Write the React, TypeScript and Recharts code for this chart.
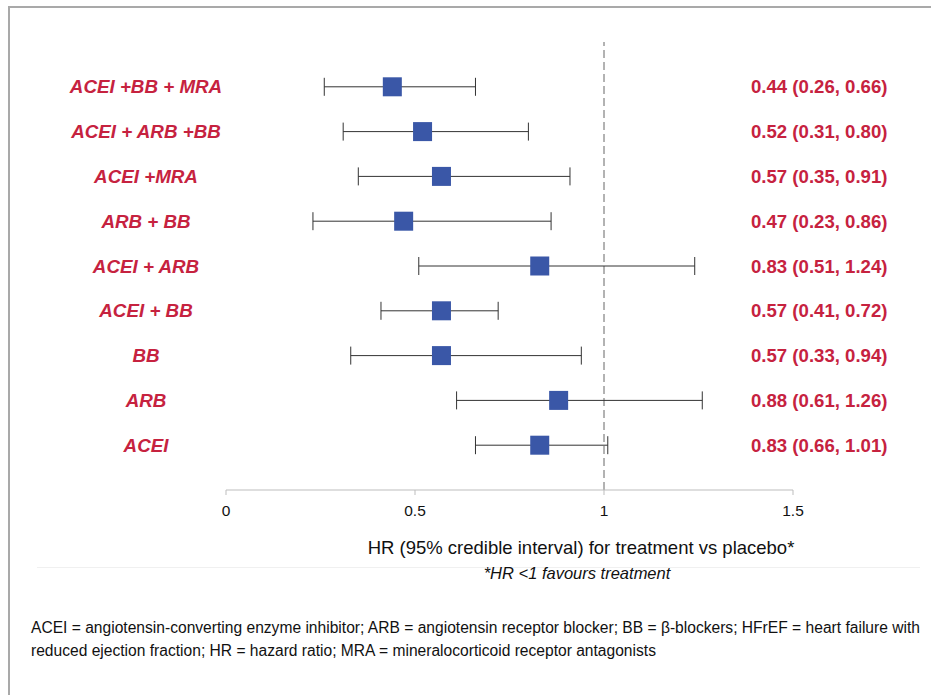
import React from 'react';
import {
  ScatterChart,
  Scatter,
  XAxis,
  YAxis,
  ErrorBar,
  ReferenceLine,
} from 'recharts';

const treatments = [
  'ACEI +BB + MRA',
  'ACEI + ARB +BB',
  'ACEI +MRA',
  'ARB + BB',
  'ACEI + ARB',
  'ACEI + BB',
  'BB',
  'ARB',
  'ACEI',
];
const hrValues = [0.44, 0.52, 0.57, 0.47, 0.83, 0.57, 0.57, 0.88, 0.83];
const lowerCI = [0.26, 0.31, 0.35, 0.23, 0.51, 0.41, 0.33, 0.61, 0.66];
const upperCI = [0.66, 0.8, 0.91, 0.86, 1.24, 0.72, 0.94, 1.26, 1.01];
const xTicks = [0, 0.5, 1, 1.5];
const rowTicks = [1, 2, 3, 4, 5, 6, 7, 8, 9];

const RED = '#c6223f';
const BLUE = '#3a57a7';
const FONT = "'Liberation Sans', Arial, sans-serif";

const rows = treatments.map((name, i) => ({
  name,
  row: i + 1,
  hr: hrValues[i],
  err: [+(hrValues[i] - lowerCI[i]).toFixed(2), +(upperCI[i] - hrValues[i]).toFixed(2)],
  ci: `${hrValues[i].toFixed(2)} (${lowerCI[i].toFixed(2)}, ${upperCI[i].toFixed(2)})`,
}));

// one tick draws the treatment name on the left and the HR text on the right
const RowTick = (props: any) => {
  const { y, payload } = props;
  const r = rows[payload.value - 1];
  if (!r) return null;
  return (
    <g>
      <text
        x={146}
        y={y}
        dominantBaseline="central"
        textAnchor="middle"
        fill={RED}
        fontSize={18.8}
        fontWeight="bold"
        fontStyle="italic"
        fontFamily={FONT}
      >
        {r.name}
      </text>
      <text
        x={751}
        y={y}
        dominantBaseline="central"
        textAnchor="start"
        fill={RED}
        fontSize={18.6}
        fontWeight="bold"
        fontFamily={FONT}
      >
        {r.ci}
      </text>
    </g>
  );
};

const Square = (props: any) => {
  const { cx, cy } = props;
  return <rect x={cx - 9.5} y={cy - 9.5} width={19} height={19} fill={BLUE} />;
};

export default function App() {
  return (
    <div style={{ position: 'relative', width: 931, height: 695, background: '#fff', overflow: 'hidden' }}>
      <style>{`body{margin:0}`}</style>
      <div
        style={{
          position: 'absolute',
          left: 8,
          top: 6,
          width: 923,
          height: 689,
          borderLeft: '2px solid #a9a9a9',
          borderTop: '2px solid #a9a9a9',
        }}
      />
      <div style={{ position: 'absolute', left: 0, top: 0 }}>
        <ScatterChart width={931} height={530} margin={{ top: 42, right: 138, left: 0, bottom: 0 }}>
          <XAxis
            type="number"
            dataKey="hr"
            domain={[0, 1.5]}
            ticks={xTicks}
            height={40}
            stroke="#bdbdbd"
            tickSize={5}
            tickMargin={10}
            tick={{ fill: '#111', fontSize: 15.5, fontFamily: FONT }}
          />
          <YAxis
            type="number"
            dataKey="row"
            domain={[0, 10]}
            ticks={rowTicks}
            reversed
            width={226}
            axisLine={false}
            tickLine={false}
            tick={<RowTick />}
          />
          <ReferenceLine x={1} stroke="#666" strokeDasharray="8 4" strokeWidth={1} />
          <Scatter data={rows} shape={<Square />} isAnimationActive={false}>
            <ErrorBar dataKey="err" direction="x" width={9} stroke="#333" strokeWidth={1} />
          </Scatter>
        </ScatterChart>
      </div>
      <div
        style={{
          position: 'absolute',
          left: 331,
          width: 500,
          top: 537,
          textAlign: 'center',
          fontFamily: FONT,
          fontSize: 18.5,
          color: '#111',
          lineHeight: '22px',
        }}
      >
        HR (95% credible interval) for treatment vs placebo*
      </div>
      <div style={{ position: 'absolute', left: 37, width: 883, top: 567, height: 1, background: '#f0f0f0' }} />
      <div
        style={{
          position: 'absolute',
          left: 427,
          width: 300,
          top: 563,
          textAlign: 'center',
          fontFamily: FONT,
          fontSize: 16.5,
          fontStyle: 'italic',
          color: '#111',
          lineHeight: '20px',
        }}
      >
        *HR &lt;1 favours treatment
      </div>
      <div
        style={{
          position: 'absolute',
          left: 31,
          width: 889,
          top: 616,
          textAlign: 'justify',
          fontFamily: FONT,
          fontSize: 15.6,
          color: '#111',
          lineHeight: '23px',
        }}
      >
        ACEI = angiotensin-converting enzyme inhibitor; ARB = angiotensin receptor blocker; BB = β-blockers; HFrEF =
        heart failure with reduced ejection fraction; HR = hazard ratio; MRA = mineralocorticoid receptor antagonists
      </div>
    </div>
  );
}
